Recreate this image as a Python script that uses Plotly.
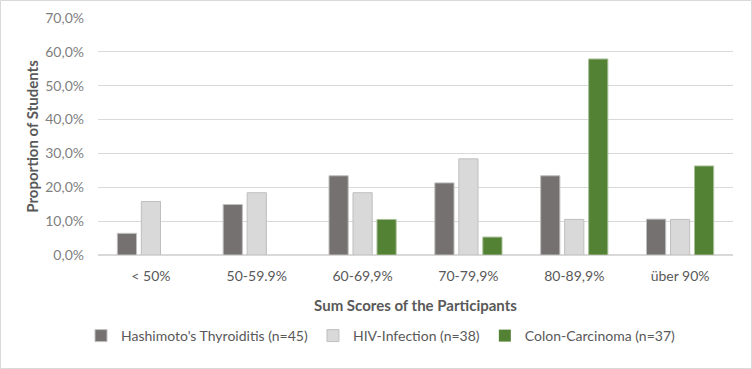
import plotly.graph_objects as go

categories = ["< 50%", "50-59.9%", "60-69,9%", "70-79,9%", "80-89,9%", "über 90%"]
hashimoto = [0.064, 0.149, 0.234, 0.213, 0.234, 0.106]
hiv = [0.158, 0.184, 0.184, 0.284, 0.105, 0.105]
colon = [0.0, 0.0, 0.105, 0.053, 0.579, 0.263]
series_names = ["Hashimoto's Thyroiditis (n=45)", "HIV-Infection (n=38)", "Colon-Carcinoma (n=37)"]
y_ticks = [0, 0.1, 0.2, 0.3, 0.4, 0.5, 0.6, 0.7]

FONT = "Lato, 'Open Sans', sans-serif"
fig = go.Figure()
for name, vals, fill, edge in [
    (series_names[0], hashimoto, "#767171", "#BFBFBF"),
    (series_names[1], hiv, "#D9D9D9", "#BFBFBF"),
    (series_names[2], colon, "#548235", "#A9BF9A"),
]:
    fig.add_trace(go.Bar(x=categories, y=vals, name=name,
                         marker=dict(color=fill,
                                     line=dict(color=edge, width=[0 if v == 0 else 1 for v in vals]))))

W, H = 752, 369
ml, mr, mt, mb = 98, 19, 18, 114
pw = W - ml - mr
ph = H - mt - mb
fig.update_layout(
    width=W, height=H,
    margin=dict(l=ml, r=mr, t=mt, b=mb, autoexpand=False),
    paper_bgcolor="white", plot_bgcolor="white",
    separators=", ",
    barmode="group", bargap=0.32, bargroupgap=0.2,
    font=dict(family=FONT, color="#595959", size=13),
    showlegend=True,
    legend=dict(orientation="h", x=(381 - ml) / pw, xanchor="center", y=-(336 - (H - mb)) / ph,
                yanchor="middle", font=dict(size=14, color="#595959"), itemwidth=30),
    xaxis=dict(showgrid=False, showline=True, linecolor="#D9D9D9", linewidth=1, automargin=False,
               tickfont=dict(size=14, color="#595959"), ticklabelstandoff=8,
               title=dict(text="<b>Sum Scores of the Participants</b>",
                          font=dict(size=15, color="#595959"), standoff=17)),
    yaxis=dict(range=[0, 0.7], tickvals=y_ticks, tickformat=".1%", automargin=False,
               showgrid=True, gridcolor="#D9D9D9", gridwidth=1,
               zeroline=True, zerolinecolor="#D9D9D9", showline=False,
               tickfont=dict(size=14, color="#7F7F7F"), ticklabelstandoff=13,
               title=dict(text="<b>Proportion of Students</b>",
                          font=dict(size=15, color="#595959"), standoff=2)),
)
fig.add_shape(type="rect", xref="paper", yref="paper",
              x0=(0.5 - ml) / pw, x1=(W - 0.5 - ml) / pw,
              y0=-(mb - 0.5) / ph, y1=(ph + mt - 0.5) / ph,
              line=dict(color="#D9D9D9", width=1), fillcolor="rgba(0,0,0,0)", layer="below")
fig.write_html("out.html", config={"displayModeBar": False},
               post_script="document.body.style.margin='0';")
